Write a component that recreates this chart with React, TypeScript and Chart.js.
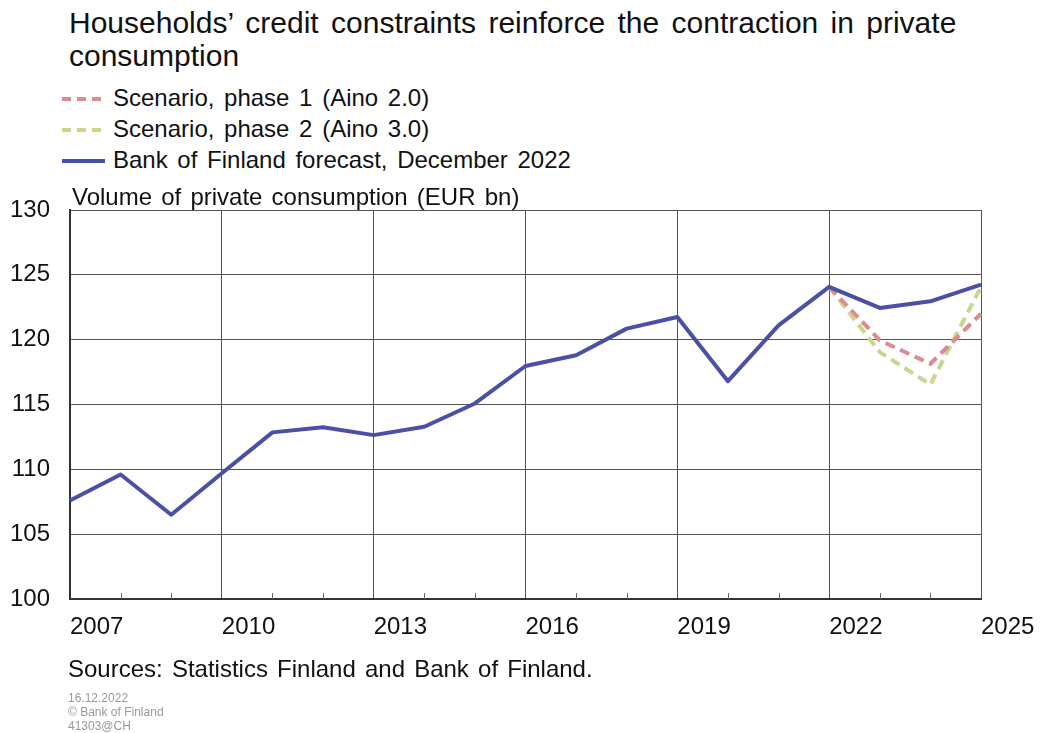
import React, { useEffect, useRef } from "react";
import { Chart, registerables } from "chart.js";

Chart.register(...registerables);

const years: string[] = [
  "2007", "2008", "2009", "2010", "2011", "2012", "2013", "2014", "2015", "2016",
  "2017", "2018", "2019", "2020", "2021", "2022", "2023", "2024", "2025",
];

const forecast: (number | null)[] = [
  107.6, 109.6, 106.5, 109.7, 112.85, 113.25, 112.64, 113.28, 115.08, 117.97,
  118.8, 120.85, 121.75, 116.8, 121.1, 124.07, 122.45, 122.96, 124.25,
];

const phase1: (number | null)[] = [
  null, null, null, null, null, null, null, null, null, null,
  null, null, null, null, null, 124.07, 119.95, 118.14, 122.0,
];

const phase2: (number | null)[] = [
  null, null, null, null, null, null, null, null, null, null,
  null, null, null, null, null, 124.07, 119.04, 116.54, 124.07,
];

const yTicks: number[] = [100, 105, 110, 115, 120, 125, 130];

const FONT = "'Liberation Sans', Arial, Helvetica, sans-serif";
const BLUE = "#4a50a5";
const PINK = "#df8a8f";
const GREEN = "#c6d88a";

const innerTicks = {
  id: "innerTicks",
  beforeDatasetsDraw(chart: any) {
    const { ctx, chartArea, scales } = chart;
    const x = scales.x;
    ctx.save();
    ctx.strokeStyle = "#666";
    ctx.lineWidth = 1;
    for (let i = 0; i < years.length; i++) {
      if (i % 3 === 0) continue;
      const px = Math.round(x.getPixelForValue(i)) + 0.5;
      ctx.beginPath();
      ctx.moveTo(px, chartArea.bottom);
      ctx.lineTo(px, chartArea.bottom - 6);
      ctx.stroke();
    }
    ctx.restore();
  },
};

export default function App() {
  const ref = useRef<HTMLCanvasElement | null>(null);

  useEffect(() => {
    if (!ref.current) return;
    const chart = new Chart(ref.current, {
      type: "line",
      data: {
        labels: years,
        datasets: [
          {
            label: "Bank of Finland forecast, December 2022",
            data: forecast,
            borderColor: BLUE,
            borderWidth: 4,
            pointRadius: 0,
            tension: 0,
            borderJoinStyle: "round",
          },
          {
            label: "Scenario, phase 1 (Aino 2.0)",
            data: phase1,
            borderColor: PINK,
            borderWidth: 4,
            borderDash: [10, 6],
            pointRadius: 0,
            tension: 0,
          },
          {
            label: "Scenario, phase 2 (Aino 3.0)",
            data: phase2,
            borderColor: GREEN,
            borderWidth: 4,
            borderDash: [10, 6],
            pointRadius: 0,
            tension: 0,
          },
        ],
      },
      options: {
        animation: false,
        responsive: false,
        layout: { padding: { left: 0, right: 62, top: 210, bottom: 94 } },
        plugins: { legend: { display: false }, tooltip: { enabled: false } },
        scales: {
          x: {
            type: "category",
            offset: false,
            grid: {
              color: (c: any) => (c.index % 3 === 0 ? "#555" : "rgba(0,0,0,0)"),
              lineWidth: 1,
              drawTicks: false,
            },
            border: { color: "#333", width: 2 },
            ticks: {
              autoSkip: false,
              maxRotation: 0,
              minRotation: 0,
              align: "start",
              padding: 14,
              color: "#111",
              font: { family: FONT, size: 24 },
              callback: (_v: any, i: number) => (i % 3 === 0 ? years[i] : ""),
            },
            afterFit: (s: any) => {
              s.height = 40;
              s.paddingLeft = 0;
              s.paddingRight = 0;
            },
          },
          y: {
            min: yTicks[0],
            max: yTicks[yTicks.length - 1],
            afterBuildTicks: (s: any) => {
              s.ticks = yTicks.map((v) => ({ value: v }));
            },
            grid: { color: "#555", lineWidth: 1, drawTicks: false },
            border: { color: "#333", width: 2 },
            ticks: {
              padding: 20,
              color: "#111",
              font: { family: FONT, size: 24 },
            },
            afterFit: (s: any) => {
              s.width = 70;
            },
          },
        },
      },
      plugins: [innerTicks],
    });
    return () => chart.destroy();
  }, []);

  const text: React.CSSProperties = {
    position: "absolute",
    fontFamily: FONT,
    color: "#111",
    whiteSpace: "nowrap",
  };

  const legendRow = (top: number, color: string, dashed: boolean, label: string) => (
    <div style={{ ...text, left: 62, top, fontSize: 24, lineHeight: "28px", wordSpacing: 3 }}>
      <svg width={44} height={28} style={{ position: "absolute", left: 0, top: 0 }}>
        <line
          x1={0}
          x2={43}
          y1={15}
          y2={15}
          stroke={color}
          strokeWidth={4}
          strokeDasharray={dashed ? "9 6" : undefined}
        />
      </svg>
      <span style={{ marginLeft: 51 }}>{label}</span>
    </div>
  );

  return (
    <div style={{ position: "fixed", left: 0, top: 0, width: 1043, height: 733, background: "#fff", overflow: "hidden" }}>
      <div style={{ ...text, left: 69, top: 6, fontSize: 30, lineHeight: "33px", wordSpacing: 4 }}>
        Households’ credit constraints reinforce the contraction in private
        <br />
        consumption
      </div>
      {legendRow(84, PINK, true, "Scenario, phase 1 (Aino 2.0)")}
      {legendRow(115, GREEN, true, "Scenario, phase 2 (Aino 3.0)")}
      {legendRow(146, BLUE, false, "Bank of Finland forecast, December 2022")}
      <canvas ref={ref} width={1043} height={733} style={{ position: "absolute", left: 0, top: 0 }} />
      <div style={{ ...text, left: 72, top: 183, fontSize: 24, lineHeight: "28px", wordSpacing: 2.5 }}>
        Volume of private consumption (EUR bn)
      </div>
      <div style={{ ...text, left: 68, top: 655, fontSize: 24, lineHeight: "28px", wordSpacing: 2.5 }}>
        Sources: Statistics Finland and Bank of Finland.
      </div>
      <div style={{ ...text, left: 68, top: 691, fontSize: 12, lineHeight: "14px", color: "#999" }}>
        16.12.2022
        <br />© Bank of Finland
        <br />
        41303@CH
      </div>
    </div>
  );
}
